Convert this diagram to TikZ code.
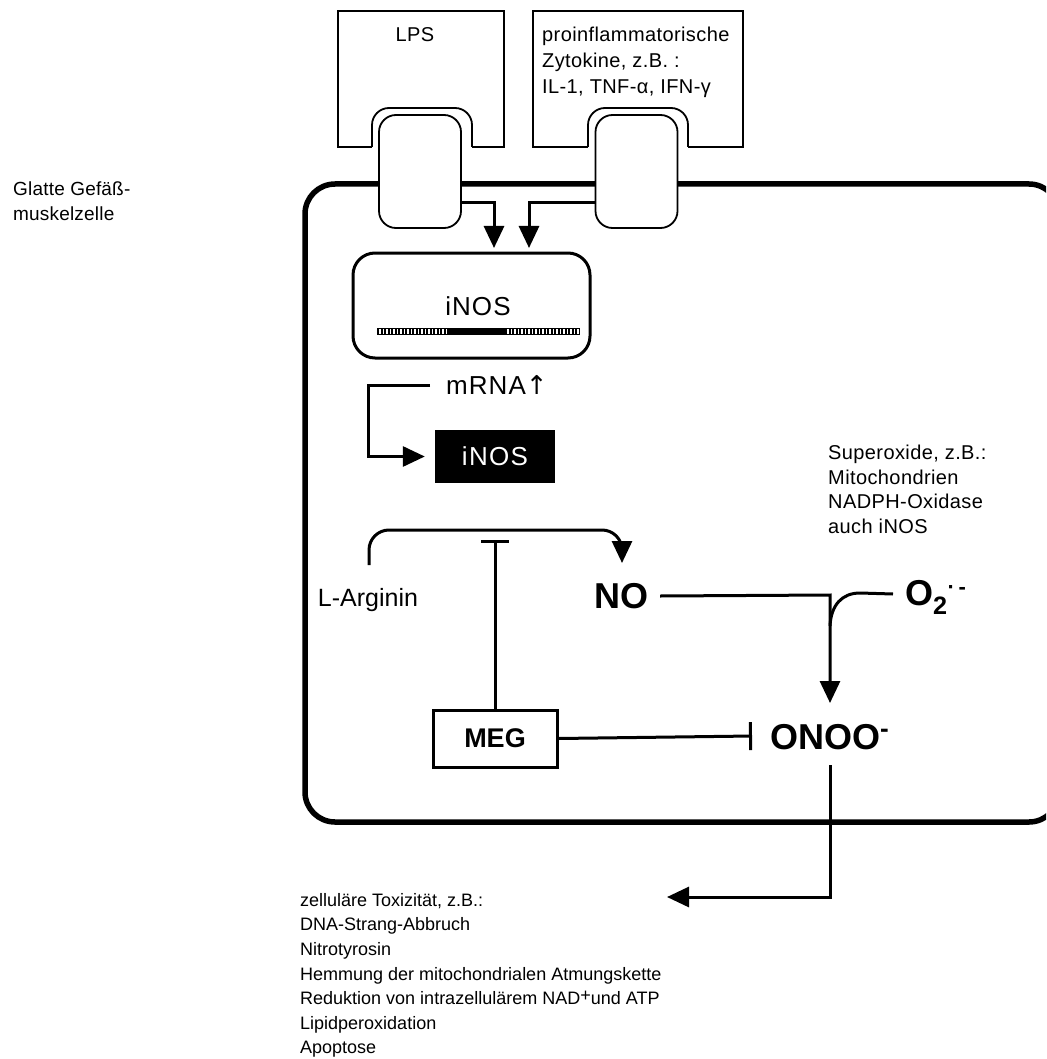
\documentclass[tikz,border=0pt]{standalone}
\usepackage{fontspec}
\setmainfont{Liberation Sans}
\newfontfamily\arrowfont{DejaVu Sans}
\usetikzlibrary{arrows.meta}
\begin{document}
\begin{tikzpicture}[x=1pt,y=-1pt,
  small/.style={font=\fontsize{18}{24.6}\selectfont, inner sep=0pt, align=left},
  wide/.style={font=\fontsize{20}{26}\selectfont\addfontfeature{LetterSpace=2}, inner sep=0pt, align=left},
  mid/.style={font=\fontsize{26}{30}\selectfont\addfontfeature{LetterSpace=4}, inner sep=0pt},
  big/.style={font=\fontsize{36}{40}\selectfont\bfseries, inner sep=0pt},
  box/.style={draw, line width=1.8pt},
  receptor/.style={draw, fill=white, line width=1.8pt, rounded corners=17pt, minimum width=82pt, minimum height=113pt, inner sep=0pt},
  cell/.style={draw, line width=5.5pt, rounded corners=30pt},
  arr/.style={line width=3pt, -{Triangle[width=20pt,length=22pt]}},
  inh/.style={line width=3pt, -{Bar[width=28pt,line width=3pt]}},
  link/.style={line width=3pt}
]
\useasboundingbox (0,0) rectangle (1046,1059);
% cell
\begin{scope}
\clip (0,0) rectangle (1046,1059);
\draw[cell] (305,184) rectangle (1059,822);
\end{scope}
% ligand boxes
\draw[box] (372,147) -- (338,147) -- (338,11) -- (504,11) -- (504,147) -- (472,147);
\draw[box, rounded corners=17pt] (372,147) -- (372,108) -- (472,108) -- (472,147);
\draw[box] (588,147) -- (533,147) -- (533,11) -- (743,11) -- (743,147) -- (688,147);
\draw[box, rounded corners=17pt] (588,147) -- (588,108) -- (688,108) -- (688,147);
\node[wide, anchor=center] (lps) at (415,35) {LPS};
\node[wide, anchor=north west] (zyt) at (542,27) {proinflammatorische\\Zytokine, z.B. :\\IL-1, TNF-α, IFN-γ};
% receptors
\node[receptor] (r1) at (420,171.5) {};
\node[receptor] (r2) at (636.5,171.5) {};
% cell label
\node[small, anchor=north west, font=\fontsize{19}{25}\selectfont\addfontfeature{LetterSpace=1}] (glatt) at (13,182) {Glatte Gefäß-\\muskelzelle};
% gene box
\node[draw, line width=3pt, rounded corners=22pt, minimum width=237pt, minimum height=105pt, inner sep=0pt] (gene) at (471.5,305.5) {};
\node[mid] (genet) at (478,306) {iNOS};
\draw[line width=0.8pt] (377,328) -- (447,328) (377,334) -- (447,334) (505,328) -- (580,328) (505,334) -- (580,334);
\draw[line width=6pt, dash pattern=on 2pt off 1.5pt] (377,331) -- (447,331) (505,331) -- (580,331);
\fill (447,327.5) rectangle (505,334.5);
% receptor arrows
\coordinate (t1) at (494,248);
\coordinate (t2) at (529,248);
\draw[arr] (r1.east |- 0,203) -| (t1);
\draw[arr] (r2.west |- 0,203) -| (t2);
% mRNA
\node[mid, anchor=west] (mrna) at (446,385) {mRNA{\arrowfont\addfontfeature{LetterSpace=0}↑}};
\node[fill=black, text=white, font=\fontsize{26}{30}\selectfont\addfontfeature{LetterSpace=5}, minimum width=120pt, minimum height=53pt, inner sep=0pt] (ibox) at (495,456.5) {iNOS};
\coordinate (m1) at (368,385);
\draw[arr, shorten >=10pt] (mrna.west) ++(-16,0) -- (m1) |- (ibox.west);
% L-Arginin -> NO
\node[mid, font=\fontsize{25}{30}\selectfont] (larg) at (368,600) {L-Arginin};
\node[big] (no) at (621,596) {NO};
\coordinate (a0) at (369,565);
\coordinate (a1) at (369,530);
\coordinate (a2) at (622,530);
\coordinate (a3) at (622,563);
\draw[arr, rounded corners=20pt] (a0) -- (a1) -- (a2) -- (a3);
% MEG
\node[draw, line width=3pt, minimum width=124pt, minimum height=57pt, inner sep=0pt, font=\fontsize{27}{30}\selectfont\bfseries] (meg) at (495,738.5) {MEG};
\coordinate (b1) at (495,540);
\draw[inh] (meg.north) -- (b1);
% ONOO
\node[big, anchor=west] (onoo) at (770,737) {ONOO\raisebox{12pt}{\fontsize{26}{26}\selectfont -}};
\coordinate (b2) at (752,736);
\draw[inh] (meg.east) -- (b2);
% O2
\node[big, anchor=west] (o2) at (905,597) {O\textsubscript{2}\raisebox{11pt}{\fontsize{22}{22}\selectfont ·\,-}};
\coordinate (j1) at (830,595);
\coordinate (j2) at (830,703);
\draw[arr] (no.east) ++(12,0) -- (j1) -- (j2);
\coordinate (c1) at (860,593);
\draw[link] (o2.west) ++(-12,-3) -- (c1) .. controls (842,593) and (831,605) .. (830,626);
% superoxide text
\node[wide, anchor=north west, font=\fontsize{20}{24.6}\selectfont\addfontfeature{LetterSpace=2}] (sup) at (828,445) {Superoxide, z.B.:\\Mitochondrien\\NADPH-Oxidase\\auch iNOS};
% toxicity
\node[small, anchor=north west] (tox) at (300,893) {zelluläre Toxizität, z.B.:\\DNA-Strang-Abbruch\\Nitrotyrosin\\Hemmung der mitochondrialen Atmungskette\\Reduktion von intrazellulärem NAD\raisebox{3pt}{+}und ATP\\Lipidperoxidation\\Apoptose};
\coordinate (d1) at (830,765);
\coordinate (d2) at (830,897);
\coordinate (d3) at (667,897);
\draw[arr] (d1) -- (d2) -- (d3);
\end{tikzpicture}
\end{document}
